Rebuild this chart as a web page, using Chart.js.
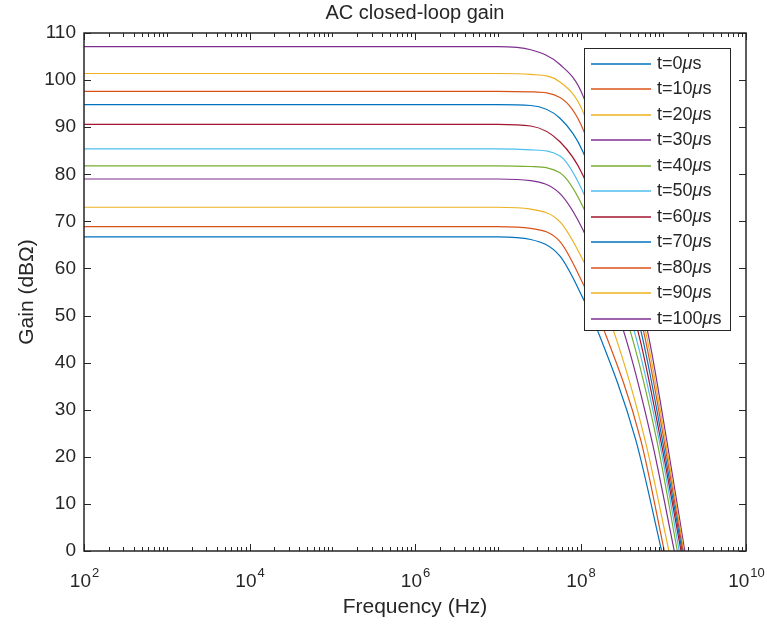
<!DOCTYPE html>
<html>
<head>
<meta charset="utf-8">
<script src="https://cdn.jsdelivr.net/npm/chart.js@4"></script>
<style>
  html, body { margin: 0; padding: 0; background: #fff; }
  #wrap { width: 767px; height: 626px; }
</style>
</head>
<body>
<div id="wrap"><canvas id="gainChart" width="767" height="626"></canvas></div>
<script>
// legend labels, one per time step
const timeLabels = ["t=0μs", "t=10μs", "t=20μs", "t=30μs", "t=40μs", "t=50μs",
                    "t=60μs", "t=70μs", "t=80μs", "t=90μs", "t=100μs"];
const seriesColors = ["#0072BD", "#D95319", "#EDB120", "#7E2F8E", "#77AC30", "#4DBEEE",
                      "#A2142F", "#0072BD", "#D95319", "#EDB120", "#7E2F8E"];
const chartTitle = "AC closed-loop gain";

// upper part of each curve, frequencies in Hz
const freqUpper = [1e2, 1e7, 2.5e7, 5.65e7, 1.07e8];
const gainFlat  = [66.7, 68.9, 73.0, 79.0, 81.8, 85.4, 90.6, 94.8, 97.6, 101.4, 107.1];
const gainAt25M = [66.15, 68.5, 72.6, 78.65, 81.65, 85.2, 90.25, 94.6, 97.5, 101.2, 106.45];
const gainAt56M = [62.6, 65.7, 69.9, 75.9, 80.3, 83.9, 86.9, 91.9, 96.3, 99.6, 103.3];
const gainAt107M = [53.7, 56.8, 61.8, 68.2, 73.1, 76.3, 79.8, 84.8, 89.6, 93.3, 96.7];

// roll-off part: frequency where each curve passes these gains
const lowerGains = [46.9, 23.6, 0];
const freqAt47 = [1.60e8, 1.92e8, 2.49e8, 3.29e8, 3.96e8, 4.43e8, 4.91e8, 5.34e8, 5.74e8, 6.07e8, 6.42e8];
const freqAt24 = [4.65e8, 5.34e8, 6.02e8, 7.25e8, 8.33e8, 8.89e8, 9.31e8, 9.75e8, 1.02e9, 1.06e9, 1.10e9];
const freqAt0  = [9.57e8, 1.03e9, 1.17e9, 1.36e9, 1.48e9, 1.56e9, 1.64e9, 1.69e9, 1.73e9, 1.77e9, 1.82e9];

const xTickExponents = [2, 4, 6, 8, 10];
const yTicks = [0, 10, 20, 30, 40, 50, 60, 70, 80, 90, 100, 110];

const FONT = "'Liberation Sans', Arial, Helvetica, sans-serif";
const axisColor = "#262626";

const datasets = timeLabels.map((label, i) => {
  const upperGains = [gainFlat[i], gainFlat[i], gainAt25M[i], gainAt56M[i], gainAt107M[i]];
  const pts = freqUpper.map((f, j) => ({ x: f, y: upperGains[j] }));
  const lowerFreqs = [freqAt47[i], freqAt24[i], freqAt0[i]];
  lowerFreqs.forEach((f, j) => pts.push({ x: f, y: lowerGains[j] }));
  return {
    label: label,
    data: pts,
    borderColor: seriesColors[i],
    borderWidth: 1.2,
    pointRadius: 0,
    fill: false,
    cubicInterpolationMode: "monotone"
  };
});

// MATLAB-like frame: title, box, inward ticks, 10^n labels, legend
const matlabFrame = {
  id: "matlabFrame",
  afterDraw(chart) {
    const { ctx, chartArea: a, scales: { x, y } } = chart;
    ctx.save();

    // title centred over the axes
    ctx.fillStyle = axisColor;
    ctx.font = "20px " + FONT;
    ctx.textAlign = "center";
    ctx.textBaseline = "middle";
    ctx.fillText(chartTitle, (a.left + a.right) / 2, 13);

    // ticks
    ctx.strokeStyle = axisColor;
    ctx.lineWidth = 1;
    ctx.beginPath();
    yTicks.forEach(v => {
      const py = Math.round(y.getPixelForValue(v)) + 0.5;
      ctx.moveTo(a.left, py); ctx.lineTo(a.left + 7, py);
      ctx.moveTo(a.right, py); ctx.lineTo(a.right - 7, py);
    });
    for (let e = 2; e <= 10; e++) {
      for (let k = 1; k < 10; k++) {
        if (e === 10 && k > 1) break;
        const px = Math.round(x.getPixelForValue(k * Math.pow(10, e))) + 0.5;
        const len = (k === 1 && e % 2 === 0) ? 7 : 4;
        ctx.moveTo(px, a.bottom); ctx.lineTo(px, a.bottom - len);
        ctx.moveTo(px, a.top); ctx.lineTo(px, a.top + len);
      }
    }
    ctx.stroke();

    // x tick labels 10^n
    ctx.textBaseline = "alphabetic";
    ctx.textAlign = "left";
    xTickExponents.forEach(e => {
      const px = x.getPixelForValue(Math.pow(10, e));
      ctx.font = "19px " + FONT;
      const w1 = ctx.measureText("10").width;
      ctx.font = "13px " + FONT;
      const w2 = ctx.measureText(String(e)).width;
      const x0 = px - (w1 + w2) / 2;
      ctx.font = "19px " + FONT;
      ctx.fillText("10", x0, a.bottom + 36);
      ctx.font = "13px " + FONT;
      ctx.fillText(String(e), x0 + w1 + 1, a.bottom + 26);
    });

    // legend
    const lx = 584, ly = 48, lw = 146, lh = 282;
    ctx.fillStyle = "#fff";
    ctx.fillRect(lx, ly, lw, lh);
    ctx.strokeStyle = axisColor;
    ctx.lineWidth = 1;
    ctx.strokeRect(lx + 0.5, ly + 0.5, lw, lh);
    chart.data.datasets.forEach((ds, i) => {
      const cy = Math.round(ly + 15.7 + i * 25.5);
      ctx.strokeStyle = ds.borderColor;
      ctx.lineWidth = 1.5;
      ctx.beginPath();
      ctx.moveTo(lx + 7, cy); ctx.lineTo(lx + 67, cy);
      ctx.stroke();
      const parts = ds.label.split("μ");
      let tx = lx + 73;
      ctx.fillStyle = axisColor;
      ctx.textBaseline = "middle";
      ctx.font = "18px " + FONT;
      ctx.fillText(parts[0], tx, cy);
      tx += ctx.measureText(parts[0]).width;
      ctx.font = "italic 18px " + FONT;
      ctx.fillText("μ", tx, cy);
      tx += ctx.measureText("μ").width;
      ctx.font = "18px " + FONT;
      ctx.fillText(parts[1], tx, cy);
    });

    // axes box
    ctx.strokeStyle = axisColor;
    ctx.lineWidth = 1.5;
    ctx.strokeRect(a.left, a.top, a.right - a.left, a.bottom - a.top);
    ctx.restore();
  }
};

new Chart(document.getElementById("gainChart"), {
  type: "line",
  data: { datasets: datasets },
  options: {
    responsive: false,
    animation: false,
    devicePixelRatio: 1,
    layout: { padding: { left: 0, right: 21, top: 33, bottom: 0 } },
    plugins: {
      legend: { display: false },
      tooltip: { enabled: false },
      title: { display: false }
    },
    scales: {
      x: {
        type: "logarithmic",
        min: 1e2,
        max: 1e10,
        grid: { display: false, drawTicks: false },
        border: { display: false },
        ticks: { callback: () => "" },
        afterBuildTicks: s => { s.ticks = xTickExponents.map(e => ({ value: Math.pow(10, e) })); },
        afterFit: s => { s.height = 75; },
        title: {
          display: true,
          text: "Frequency (Hz)",
          color: axisColor,
          font: { family: FONT, size: 21 },
          padding: { top: 0, bottom: 6 }
        }
      },
      y: {
        min: 0,
        max: 110,
        grid: { display: false, drawTicks: false },
        border: { display: false },
        ticks: {
          stepSize: 10,
          color: axisColor,
          padding: 8,
          font: { family: FONT, size: 19 }
        },
        afterFit: s => { s.width = 84; },
        title: {
          display: true,
          text: "Gain (dBΩ)",
          color: axisColor,
          font: { family: FONT, size: 21 },
          padding: { top: 15, bottom: 0 }
        }
      }
    }
  },
  plugins: [matlabFrame]
});
</script>
</body>
</html>
